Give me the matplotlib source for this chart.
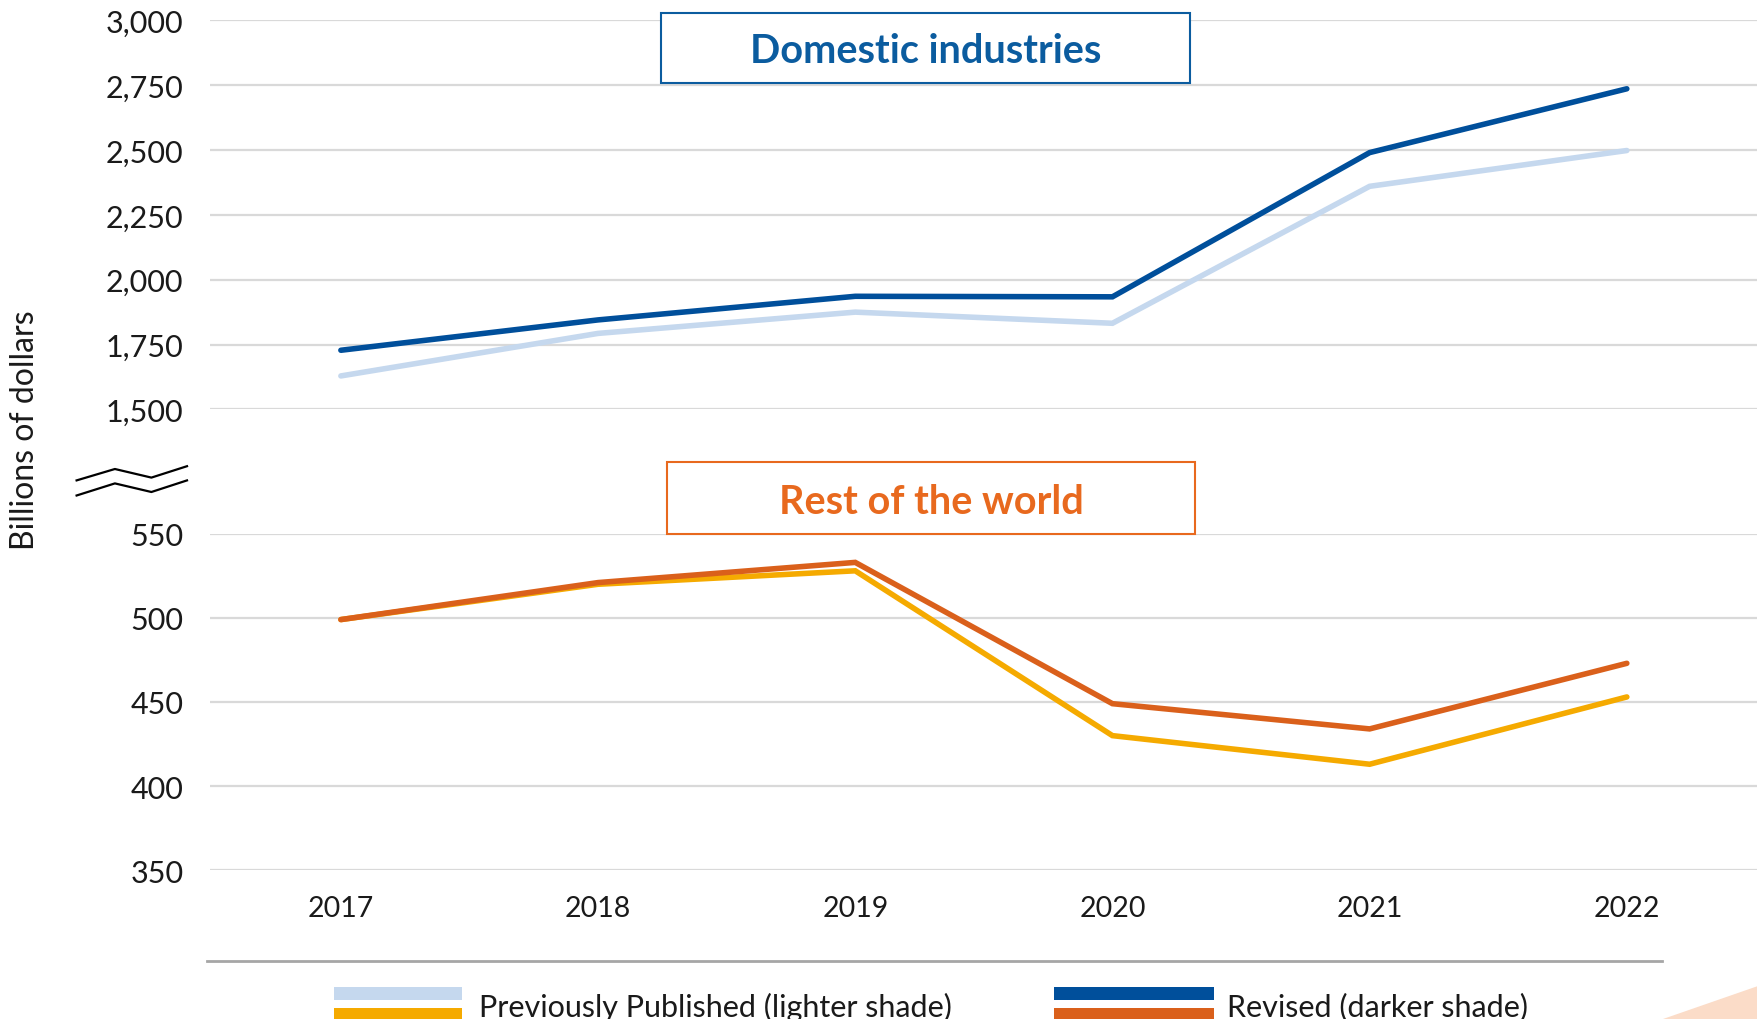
import matplotlib
matplotlib.use("Agg")
import matplotlib.pyplot as plt
from matplotlib.patches import Rectangle, Polygon
from matplotlib.lines import Line2D

# ---- data (billions of dollars) ----
years = [2017, 2018, 2019, 2020, 2021, 2022]
domestic_previous = [1629, 1793, 1875, 1832, 2360, 2498]
domestic_revised = [1728, 1845, 1936, 1934, 2490, 2736]
row_previous = [499, 520, 528, 430, 413, 453]
row_revised = [499, 521, 533, 449, 434, 473]

top_ticks = [1500, 1750, 2000, 2250, 2500, 2750, 3000]
bottom_ticks = [350, 400, 450, 500, 550]

# ---- styling ----
FONT = "Lato"
GRID = "#d9d9d9"
LIGHT_BLUE = "#c5d8ee"
DARK_BLUE = "#004f9b"
GOLD = "#f5aa00"
DARK_ORANGE = "#da601b"
TITLE_BLUE = "#0b5c9f"
TITLE_ORANGE = "#e8691e"
TEXT = "#1a1a1a"

W, H = 1758, 1020
fig = plt.figure(figsize=(W / 100, H / 100), dpi=100)


def fx(x):
    return x / W


def fy(y):
    return 1 - y / H


left = 209.7
ax_top = fig.add_axes([fx(left), fy(410.4), 1 - fx(left), fy(21.3) - fy(410.4)])
ax_bot = fig.add_axes([fx(left), fy(871.2), 1 - fx(left), fy(534.8) - fy(871.2)])

for ax, ticks in ((ax_top, top_ticks), (ax_bot, bottom_ticks)):
    ax.set_xlim(2016.49, 2022.51)
    ax.set_ylim(ticks[0], ticks[-1])
    ax.set_yticks(ticks)
    ax.set_yticklabels([f"{t:,}" for t in ticks], fontfamily=FONT, fontsize=22,
                       color=TEXT)
    ax.grid(axis="y", color=GRID, linewidth=1.6)
    ax.set_axisbelow(True)
    for s in ax.spines.values():
        s.set_visible(False)
    ax.tick_params(axis="both", length=0)
    ax.tick_params(axis="y", pad=19)
    ax.patch.set_alpha(0)

ax_top.set_xticks([])
ax_bot.set_xticks(years)
ax_bot.set_xticklabels([str(y) for y in years], fontfamily=FONT, fontsize=20.5,
                       color=TEXT)
ax_bot.tick_params(axis="x", pad=18)

line_kw = dict(linewidth=4, solid_capstyle="round", solid_joinstyle="miter",
               clip_on=False)
ax_top.plot(years, domestic_previous, color=LIGHT_BLUE, **line_kw)
ax_top.plot(years, domestic_revised, color=DARK_BLUE, **line_kw)
ax_bot.plot(years, row_previous, color=GOLD, **line_kw)
ax_bot.plot(years, row_revised, color=DARK_ORANGE, **line_kw)

# ---- axis label ----
fig.text(fx(24.7), fy(430), "Billions of dollars", rotation=90, ha="center",
         va="center", fontfamily=FONT, fontsize=23, color=TEXT)

# ---- axis-break zigzag ----
zx = [76.6, 114.9, 151.4, 187.0]
for zy in ([481.4, 470.0, 478.6, 467.2], [496.5, 484.4, 493.0, 481.4]):
    fig.add_artist(Line2D([fx(x) for x in zx], [fy(y) for y in zy],
                          color="black", linewidth=1.6))

# ---- panel titles ----
def title_box(x0, x1, y0, y1, text, color):
    fig.add_artist(Rectangle((fx(x0), fy(y1)), fx(x1) - fx(x0), fy(y0) - fy(y1),
                             facecolor="white", edgecolor=color, linewidth=1.5,
                             zorder=5))
    fig.text(fx((x0 + x1) / 2), fy((y0 + y1) / 2 + 3), text, ha="center",
             va="center", fontfamily=FONT, fontweight="bold", fontsize=28.5,
             color=color, zorder=6)


title_box(661.5, 1189.6, 13.5, 84, "Domestic industries", TITLE_BLUE)
title_box(667, 1195, 463, 535, "Rest of the world", TITLE_ORANGE)

# ---- separator line ----
fig.add_artist(Line2D([fx(207), fx(1662)], [fy(962), fy(962)], color="#a6a6a6",
                      linewidth=2))

# ---- legend ----
def swatch(x0, x1, y0, y1, color):
    fig.add_artist(Rectangle((fx(x0), fy(y1)), fx(x1) - fx(x0), fy(y0) - fy(y1),
                             facecolor=color, edgecolor="none"))


swatch(334, 462, 988, 1001, LIGHT_BLUE)
swatch(334, 462, 1009, 1022, GOLD)
swatch(1054, 1214, 988, 1001, DARK_BLUE)
swatch(1054, 1214, 1009, 1022, DARK_ORANGE)
fig.text(fx(479), fy(1007), "Previously Published (lighter shade)", ha="left",
         va="center", fontfamily=FONT, fontsize=22, color=TEXT)
fig.text(fx(1227), fy(1007), "Revised (darker shade)", ha="left", va="center",
         fontfamily=FONT, fontsize=22, color=TEXT)

# ---- corner accent ----
fig.add_artist(Polygon([(fx(1663), fy(1020)), (fx(1758), fy(987)),
                        (fx(1758), fy(1020))], closed=True,
                       facecolor="#fbdcc8", edgecolor="none"))

fig.savefig("out.png", dpi=100)
